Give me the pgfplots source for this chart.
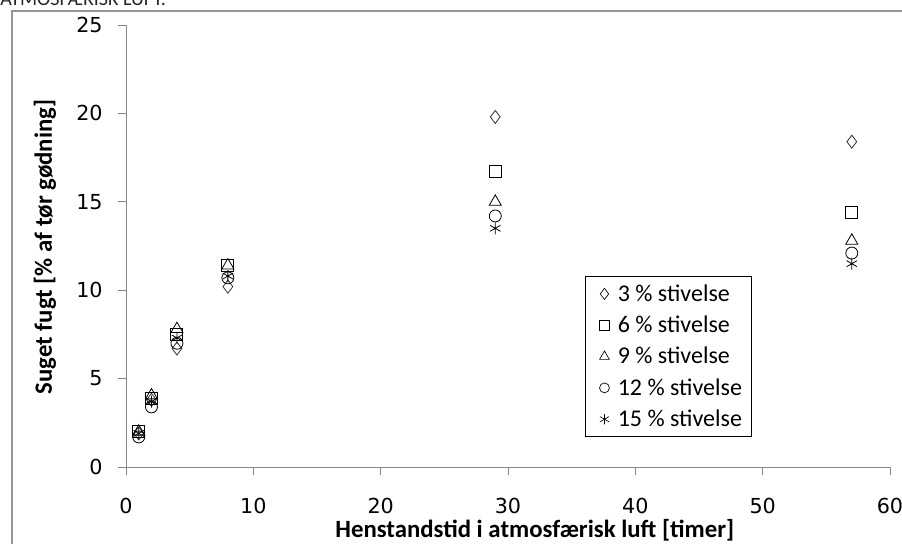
\documentclass[border=0pt]{standalone}
\usepackage{fontspec}
\setmainfont{Carlito}
\newfontfamily\tickfont{DejaVu Sans}
\usepackage{pgfplots}
\pgfplotsset{compat=1.18}
\definecolor{axgray}{RGB}{134,134,134}
\definecolor{framegray}{RGB}{150,150,150}
\begin{document}
\begin{tikzpicture}
\useasboundingbox (0,0) rectangle (676.5pt,407.25pt);
\draw[framegray, line width=0.9pt] (9pt,-5pt) -- (9pt,399pt) -- (690pt,399pt);
\node[anchor=base west, inner sep=0pt, font=\fontsize{15}{17}\selectfont, text=black!85] at (0pt,402.75pt) {ATMOSFÆRISK LUFT.};
\begin{axis}[
  at={(94.5pt,57pt)}, anchor=south west,
  scale only axis, width=573pt, height=331.5pt,
  xmin=0, xmax=60, ymin=0, ymax=25,
  xtick={0,10,...,60}, ytick={0,5,...,25},
  axis x line*=bottom, axis y line*=left,
  axis line style={axgray, line width=0.75pt},
  tick style={axgray, line width=0.75pt},
  tick align=outside, major tick length=6pt,
  /pgf/number format/assume math mode=true,
  tick label style={font=\tickfont\fontsize{15.5}{18}\selectfont, black},
  yticklabel style={xshift=-8pt},
  xticklabel style={yshift=-14pt},
  xlabel={Henstandstid i atmosfærisk luft [timer]},
  ylabel={Suget fugt [\% af tør gødning]},
  label style={font=\bfseries\fontsize{18.6}{21}\selectfont},
  xlabel style={at={(axis description cs:0.535,-0.1425)}, anchor=center},
  ylabel style={at={(axis description cs:-0.106,0.498)}, anchor=center},
  legend style={at={(axis description cs:0.601,0.432)}, anchor=north west,
    draw=black, line width=0.75pt, font=\fontsize{18}{21}\selectfont,
    row sep=5.5pt, inner xsep=5pt, inner ysep=4pt},
  legend cell align=left,
  legend image code/.code={%
    \path[draw=none,fill=none] (0cm,0cm) -- (0.6cm,0cm);
    \draw plot[only marks] coordinates {(0.32cm,0cm)};},
]
\addlegendimage{mark=diamond, mark size=4.2pt, black, line width=0.5pt}
\addlegendentry{3 \% stivelse}
\addlegendimage{mark=square, mark size=3.7pt, black, line width=0.6pt}
\addlegendentry{6 \% stivelse}
\addlegendimage{mark=triangle, mark size=4.2pt, black, line width=0.5pt}
\addlegendentry{9 \% stivelse}
\addlegendimage{mark=o, mark size=3.7pt, black, line width=0.5pt}
\addlegendentry{12 \% stivelse}
\addlegendimage{mark=asterisk, mark size=3.9pt, black, line width=0.5pt}
\addlegendentry{15 \% stivelse}

\addplot[forget plot, only marks, mark=diamond, mark size=4.9pt, black!80, line width=0.6pt]
  coordinates {(1,1.9)(2,3.8)(4,6.7)(8,10.2)(29,19.8)(57,18.4)};
\addplot[forget plot, only marks, mark=square, mark size=4.5pt, black, line width=0.75pt]
  coordinates {(1,2.0)(2,3.9)(4,7.5)(8,11.4)(29,16.7)(57,14.4)};
\addplot[forget plot, only marks, mark=triangle, mark size=5.2pt, black, line width=0.6pt]
  coordinates {(1,2.0)(2,4.05)(4,7.8)(8,11.4)(29,15.0)(57,12.8)};
\addplot[forget plot, only marks, mark=o, mark size=4.5pt, black, line width=0.6pt]
  coordinates {(1,1.7)(2,3.4)(4,7.0)(8,10.7)(29,14.2)(57,12.1)};
\addplot[forget plot, only marks, mark=asterisk, mark size=4.5pt, black, line width=0.6pt]
  coordinates {(1,1.9)(2,3.7)(4,7.3)(8,10.8)(29,13.5)(57,11.5)};
\end{axis}
\end{tikzpicture}
\end{document}
